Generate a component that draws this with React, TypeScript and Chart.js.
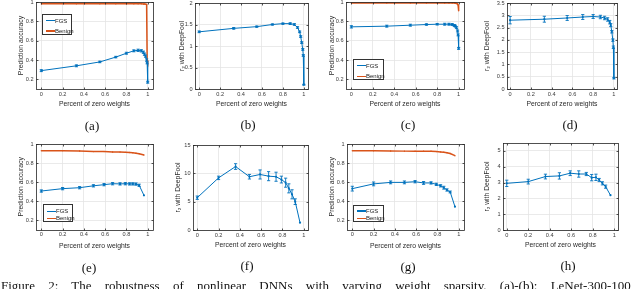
import React, { useEffect, useRef } from "react";
import { Chart, registerables } from "chart.js";
Chart.register(...registerables);

const BLUE = "#0072BD";
const ORANGE = "#D95319";
const SANS = "'Liberation Sans', Arial, Helvetica, sans-serif";
const SERIF = "'Liberation Serif', 'Times New Roman', serif";

// ---------- data ----------
const xTicks = [0, 0.2, 0.4, 0.6, 0.8, 1];
const accTicks = [0.2, 0.4, 0.6, 0.8, 1];
const tickB = [0, 0.5, 1, 1.5, 2];
const tickD = [0, 0.5, 1, 1.5, 2, 2.5, 3, 3.5];
const tickF = [0, 5, 10, 15];
const tickH = [0, 1, 2, 3, 4, 5];

const xsTop = [0, 0.33, 0.55, 0.7, 0.8, 0.87, 0.91, 0.94, 0.96, 0.97, 0.98, 0.99, 0.995, 1];
const fgsA = [0.29, 0.34, 0.38, 0.43, 0.47, 0.495, 0.5, 0.495, 0.48, 0.46, 0.44, 0.4, 0.37, 0.17];
const errA = [0.01, 0.01, 0.008, 0.008, 0.01, 0.01, 0.012, 0.012, 0.012, 0.012, 0.012, 0.012, 0.01, 0.01];
const benignA = [0.982, 0.982, 0.982, 0.982, 0.982, 0.982, 0.982, 0.981, 0.98, 0.98, 0.978, 0.975, 0.4, 0.38];
const deepB = [1.33, 1.41, 1.45, 1.5, 1.52, 1.52, 1.5, 1.43, 1.33, 1.22, 1.08, 0.92, 0.78, 0.1];
const errB = [0.02, 0.02, 0.015, 0.015, 0.015, 0.02, 0.02, 0.02, 0.02, 0.02, 0.02, 0.02, 0.02, 0.01];
const fgsC = [0.743, 0.75, 0.76, 0.767, 0.77, 0.77, 0.77, 0.767, 0.757, 0.75, 0.735, 0.7, 0.66, 0.52];
const errC = [0.012, 0.01, 0.01, 0.008, 0.008, 0.01, 0.01, 0.01, 0.01, 0.01, 0.01, 0.01, 0.01, 0.01];
const benignC = [0.99, 0.99, 0.99, 0.99, 0.99, 0.99, 0.99, 0.99, 0.99, 0.988, 0.985, 0.98, 0.97, 0.91];
const deepD = [2.8, 2.84, 2.89, 2.93, 2.95, 2.93, 2.89, 2.83, 2.72, 2.6, 2.33, 1.99, 1.7, 0.44];
const errD = [0.15, 0.12, 0.1, 0.1, 0.08, 0.07, 0.07, 0.07, 0.07, 0.06, 0.05, 0.05, 0.05, 0.03];

const xsBot = [0, 0.2, 0.36, 0.49, 0.59, 0.67, 0.74, 0.79, 0.83, 0.86, 0.89, 0.92, 0.965];
const benignE = [0.93, 0.93, 0.926, 0.92, 0.92, 0.916, 0.915, 0.912, 0.91, 0.907, 0.903, 0.897, 0.884];
const fgsE = [0.505, 0.53, 0.54, 0.56, 0.572, 0.582, 0.58, 0.582, 0.58, 0.58, 0.578, 0.565, 0.46];
const errE = [0.012, 0.012, 0.012, 0.012, 0.012, 0.012, 0.012, 0.012, 0.012, 0.012, 0.012, 0.012, 0];
const deepF = [5.7, 9.2, 11.2, 9.4, 9.8, 9.5, 9.4, 8.9, 8.35, 7.35, 6.3, 5.0, 1.3];
const errF = [0.3, 0.3, 0.5, 0.4, 0.8, 0.8, 0.8, 0.6, 0.8, 0.8, 0.8, 0.5, 0];
const benignG = [0.93, 0.928, 0.926, 0.925, 0.925, 0.924, 0.923, 0.92, 0.917, 0.913, 0.908, 0.9, 0.877];
const fgsG = [0.53, 0.58, 0.596, 0.596, 0.603, 0.59, 0.59, 0.575, 0.56, 0.54, 0.516, 0.495, 0.34];
const errG = [0.025, 0.02, 0.015, 0.015, 0.012, 0.015, 0.012, 0.012, 0.012, 0.015, 0.012, 0.01, 0];
const deepH = [2.95, 3.06, 3.38, 3.42, 3.59, 3.54, 3.54, 3.31, 3.33, 3.16, 2.95, 2.74, 2.2];
const errH = [0.2, 0.15, 0.15, 0.2, 0.15, 0.2, 0.1, 0.2, 0.2, 0.1, 0.1, 0.1, 0];

const ACC = "Prediction accuracy";
const DF = "r\u2082 with DeepFool";
const XT = "Percent of zero weights";
const CAPTION = "Figure 2: The robustness of nonlinear DNNs with varying weight sparsity. (a)-(b): LeNet-300-100";

type Series = { label: string; color: string; xs: number[]; ys: number[]; errs?: number[]; width: number };
type Leg = { x: number; y: number; w: number; h: number; r1: number; r2: number };
type Cfg = {
  L: number; T: number; R: number; B: number;
  xmin: number; xmax: number; ymin: number; ymax: number;
  yticks: number[]; ytitle: string; ytitleX: number; xtitleY: number;
  series: Series[]; tag: string; tagX: number; tagY: number; legend?: Leg;
};

const fgs = (xs: number[], ys: number[], errs: number[]): Series => ({ label: "FGS", color: BLUE, xs, ys, errs, width: 1 });
const ben = (xs: number[], ys: number[]): Series => ({ label: "Benign", color: ORANGE, xs, ys, width: 1.5 });

const panels: Cfg[] = [
  { L: 36, T: 2, R: 153, B: 89, xmin: -0.05, xmax: 1.05, ymin: 0.1, ymax: 1, yticks: accTicks, ytitle: ACC, ytitleX: 21, xtitleY: 104,
    series: [fgs(xsTop, fgsA, errA), ben(xsTop, benignA)], tag: "(a)", tagX: 92, tagY: 126,
    legend: { x: 42, y: 14, w: 30, h: 21, r1: 5.7, r2: 16 } },
  { L: 195, T: 3, R: 307.5, B: 89, xmin: -0.04, xmax: 1.04, ymin: 0, ymax: 2, yticks: tickB, ytitle: DF, ytitleX: 181.7, xtitleY: 104,
    series: [fgs(xsTop, deepB, errB)], tag: "(b)", tagX: 248, tagY: 125 },
  { L: 346, T: 2, R: 464, B: 89, xmin: -0.05, xmax: 1.05, ymin: 0.1, ymax: 1, yticks: accTicks, ytitle: ACC, ytitleX: 331.7, xtitleY: 104,
    series: [fgs(xsTop, fgsC, errC), ben(xsTop, benignC)], tag: "(c)", tagX: 408, tagY: 125,
    legend: { x: 353, y: 59, w: 31, h: 21, r1: 5.7, r2: 16.3 } },
  { L: 507, T: 3, R: 616.5, B: 89, xmin: -0.03, xmax: 1.03, ymin: 0, ymax: 3.5, yticks: tickD, ytitle: DF, ytitleX: 486.7, xtitleY: 104,
    series: [fgs(xsTop, deepD, errD)], tag: "(d)", tagX: 570, tagY: 125 },
  { L: 36, T: 144, R: 153, B: 229.5, xmin: -0.05, xmax: 1.05, ymin: 0.1, ymax: 1, yticks: accTicks, ytitle: ACC, ytitleX: 21, xtitleY: 246,
    series: [fgs(xsBot, fgsE, errE), ben(xsBot, benignE)], tag: "(e)", tagX: 89, tagY: 268,
    legend: { x: 43, y: 204, w: 30, h: 18, r1: 6.3, r2: 13.3 } },
  { L: 193, T: 145, R: 307.6, B: 230, xmin: -0.04, xmax: 1.04, ymin: 0, ymax: 15, yticks: tickF, ytitle: DF, ytitleX: 178.3, xtitleY: 245,
    series: [fgs(xsBot, deepF, errF)], tag: "(f)", tagX: 247, tagY: 266 },
  { L: 347, T: 144, R: 464, B: 229.5, xmin: -0.05, xmax: 1.05, ymin: 0.1, ymax: 1, yticks: accTicks, ytitle: ACC, ytitleX: 332.3, xtitleY: 246,
    series: [fgs(xsBot, fgsG, errG), ben(xsBot, benignG)], tag: "(g)", tagX: 408, tagY: 267,
    legend: { x: 353, y: 205, w: 31, h: 17, r1: 5, r2: 12.3 } },
  { L: 503, T: 143, R: 618, B: 230, xmin: -0.035, xmax: 1.035, ymin: 0, ymax: 5.5, yticks: tickH, ytitle: DF, ytitleX: 487.3, xtitleY: 245,
    series: [fgs(xsBot, deepH, errH)], tag: "(h)", tagX: 568, tagY: 266 },
];

const fmt = (v: number) => String(+Number(v).toFixed(2));

const matlabPlugin = {
  id: "matlabBox",
  afterDatasetsDraw(chart: any) {
    const ctx = chart.ctx;
    const xs = chart.scales.x, ys = chart.scales.y;
    chart.data.datasets.forEach((ds: any) => {
      if (!ds.errs) return;
      ctx.save();
      ctx.strokeStyle = ds.borderColor;
      ctx.lineWidth = 0.9;
      ctx.beginPath();
      ds.data.forEach((p: any, i: number) => {
        const e = ds.errs[i];
        if (!e) return;
        const px = xs.getPixelForValue(p.x);
        const y1 = ys.getPixelForValue(p.y - e);
        const y2 = ys.getPixelForValue(p.y + e);
        ctx.moveTo(px, y1); ctx.lineTo(px, y2);
        ctx.moveTo(px - 1.6, y1); ctx.lineTo(px + 1.6, y1);
        ctx.moveTo(px - 1.6, y2); ctx.lineTo(px + 1.6, y2);
      });
      ctx.stroke();
      ctx.restore();
    });
  },
  afterDraw(chart: any) {
    const { ctx, chartArea: a } = chart;
    const xs = chart.scales.x, ys = chart.scales.y;
    ctx.save();
    ctx.strokeStyle = "#262626";
    ctx.lineWidth = 0.8;
    const l = Math.round(a.left) + 0.5, t = Math.round(a.top) + 0.5;
    const r = Math.round(a.right) + 0.5, b = Math.round(a.bottom) + 0.5;
    ctx.strokeRect(l, t, r - l, b - t);
    ctx.beginPath();
    xs.ticks.forEach((tk: any) => {
      const px = Math.round(xs.getPixelForValue(tk.value)) + 0.5;
      ctx.moveTo(px, b); ctx.lineTo(px, b - 2);
      ctx.moveTo(px, t); ctx.lineTo(px, t + 2);
    });
    ys.ticks.forEach((tk: any) => {
      const py = Math.round(ys.getPixelForValue(tk.value)) + 0.5;
      ctx.moveTo(l, py); ctx.lineTo(l + 2, py);
      ctx.moveTo(r, py); ctx.lineTo(r - 2, py);
    });
    ctx.stroke();
    ctx.restore();
  },
};

const TICK_SIZE = 5.6;
const TITLE_SIZE = 6.8;

function Panel({ cfg }: { cfg: Cfg }) {
  const ref = useRef<HTMLCanvasElement>(null);
  const cl = cfg.L - 40;
  const ct = cfg.T - 4;
  const cw = Math.round(cfg.R + 6 - cl);
  const ch = Math.round(cfg.xtitleY + 6 - ct);
  useEffect(() => {
    const lh = TITLE_SIZE * 1.2;
    const zeroPad = (s: any) => {
      s.paddingLeft = 0; s.paddingRight = 0; s.paddingTop = 0; s.paddingBottom = 0;
    };
    const chart = new Chart(ref.current as HTMLCanvasElement, {
      type: "line",
      data: {
        datasets: cfg.series.map((s) => ({
          label: s.label,
          data: s.xs.map((x, i) => ({ x, y: s.ys[i] })),
          borderColor: s.color,
          backgroundColor: s.color,
          borderWidth: s.width,
          pointRadius: s.errs ? 1.1 : 0.7,
          pointBorderWidth: 0,
          pointBackgroundColor: s.color,
          tension: 0,
          errs: s.errs,
        })) as any,
      },
      options: {
        responsive: false,
        animation: false,
        devicePixelRatio: 1,
        events: [],
        layout: { autoPadding: false, padding: { top: 4, right: 6, left: 0, bottom: 0 } },
        plugins: { legend: { display: false }, tooltip: { enabled: false } },
        scales: {
          x: {
            type: "linear",
            min: cfg.xmin,
            max: cfg.xmax,
            afterBuildTicks: (s: any) => { s.ticks = xTicks.map((v) => ({ value: v })); },
            afterFit: (s: any) => { s.height = ch - (cfg.B - ct); zeroPad(s); },
            grid: { color: "#e4e4e4", lineWidth: 0.8, drawTicks: false },
            border: { display: false },
            ticks: { font: { family: SANS, size: TICK_SIZE }, color: "#3a3a3a", padding: 2, maxRotation: 0, autoSkip: false, callback: (v: any) => fmt(v) },
            title: { display: true, text: XT, font: { family: SANS, size: TITLE_SIZE }, color: "#2a2a2a", padding: { top: 0, bottom: 6 - lh / 2 } },
          },
          y: {
            type: "linear",
            min: cfg.ymin,
            max: cfg.ymax,
            afterBuildTicks: (s: any) => { s.ticks = cfg.yticks.map((v) => ({ value: v })); },
            afterFit: (s: any) => { s.width = 40; zeroPad(s); },
            grid: { color: "#e4e4e4", lineWidth: 0.8, drawTicks: false },
            border: { display: false },
            ticks: { font: { family: SANS, size: TICK_SIZE }, color: "#3a3a3a", padding: 2.5, autoSkip: false, callback: (v: any) => fmt(v) },
            title: { display: true, text: cfg.ytitle, font: { family: SANS, size: TITLE_SIZE }, color: "#2a2a2a", padding: { top: cfg.ytitleX - cl - lh / 2, bottom: 0 } },
          },
        },
      } as any,
      plugins: [matlabPlugin],
    });
    return () => chart.destroy();
  }, []);
  return (
    <canvas
      ref={ref}
      width={cw}
      height={ch}
      style={{ position: "absolute", left: cl, top: ct, width: cw, height: ch }}
    />
  );
}

function Legend({ lg }: { lg: Leg }) {
  const row = (y: number, color: string, text: string) => (
    <div key={text}>
      <div style={{ position: "absolute", left: 2.5, top: y - 0.6, width: 9, height: 1.2, background: color }} />
      <div style={{ position: "absolute", left: 12, top: y - 4, fontFamily: SANS, fontSize: 6, lineHeight: "8px", color: "#222", whiteSpace: "nowrap" }}>{text}</div>
    </div>
  );
  return (
    <div style={{ position: "absolute", left: lg.x, top: lg.y, width: lg.w, height: lg.h, border: "0.8px solid #333", background: "#fff", boxSizing: "border-box" }}>
      {row(lg.r1, BLUE, "FGS")}
      {row(lg.r2, ORANGE, "Benign")}
    </div>
  );
}

export default function App() {
  useEffect(() => {
    document.body.style.margin = "0";
    document.body.style.background = "#fff";
  }, []);
  return (
    <div style={{ position: "relative", width: 640, height: 289, overflow: "hidden", background: "#fff" }}>
      {panels.map((p, i) => (
        <Panel key={i} cfg={p} />
      ))}
      {panels.map((p, i) =>
        p.legend ? <Legend key={"l" + i} lg={p.legend} /> : null
      )}
      {panels.map((p, i) => (
        <div
          key={"t" + i}
          style={{ position: "absolute", left: p.tagX - 20, top: p.tagY - 8, width: 40, textAlign: "center", fontFamily: SERIF, fontSize: 13, lineHeight: "16px", color: "#111" }}
        >
          {p.tag}
        </div>
      ))}
      <div style={{ position: "absolute", left: 1, top: 278, fontFamily: SERIF, fontSize: 13, lineHeight: "16px", whiteSpace: "nowrap", wordSpacing: 10, color: "#111" }}>
        {CAPTION}
      </div>
    </div>
  );
}
